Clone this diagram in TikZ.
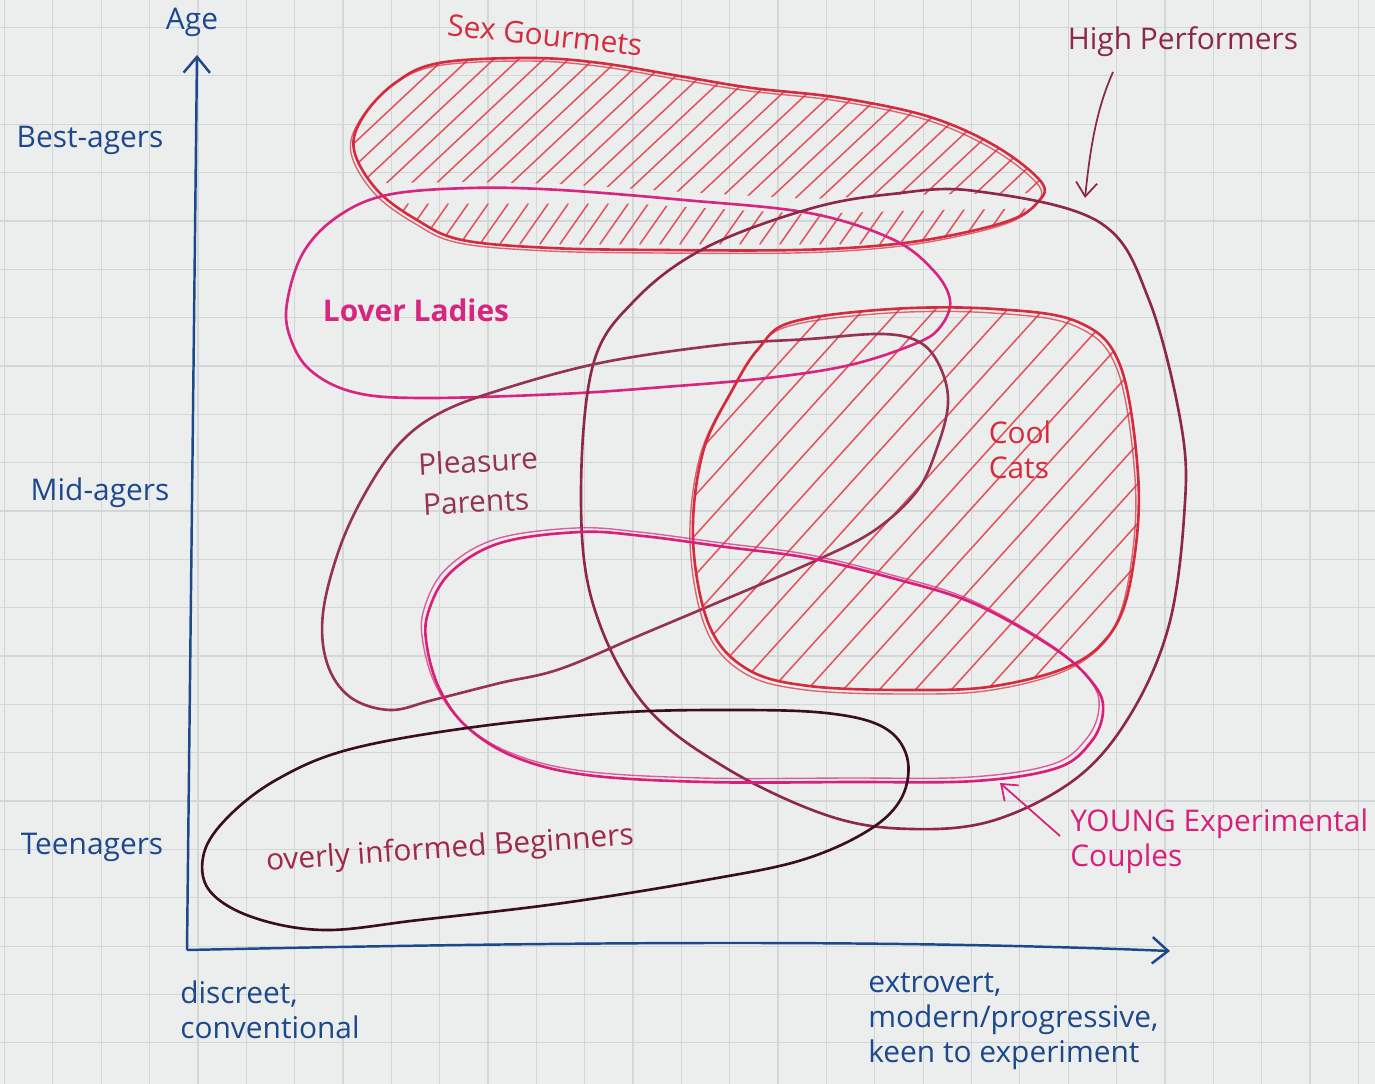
\documentclass[tikz,border=0pt]{standalone}
\usepackage{fontspec}
\setmainfont{Open Sans}
\usetikzlibrary{arrows.meta}

\definecolor{paper}{RGB}{236,238,237}
\definecolor{gridgray}{RGB}{212,215,215}
\definecolor{axisblue}{RGB}{28,72,140}
\definecolor{gourmetred}{RGB}{212,44,62}
\definecolor{hatchred}{RGB}{226,86,96}
\definecolor{ladypink}{RGB}{214,38,128}
\definecolor{performer}{RGB}{142,40,74}
\definecolor{parentrose}{RGB}{150,50,82}
\definecolor{youngpink}{RGB}{216,32,122}
\definecolor{beginner}{RGB}{58,14,28}
\definecolor{beginnertext}{RGB}{160,40,72}

\newcommand\gourmetblob{plot[smooth cycle,tension=0.6] coordinates {(439,63) (529,58) (600,63) (685,77) (752,88) (841,98) (930,117) (997,147) (1042,183) (1037,203) (1011,220) (953,235) (886,245) (796,250) (662,250) (551,248) (462,240) (417,220) (377,190) (354,150) (363,117) (395,83)}}
\newcommand\ladyblob{plot[smooth cycle,tension=0.6] coordinates {(287,303) (303,253) (337,217) (387,195) (470,188) (560,190) (684,200) (809,213) (892,239) (933,270) (950,300) (941,326) (917,343) (850,365) (767,378) (664,387) (560,394) (420,398) (353,392) (310,370) (290,337)}}
\newcommand\performerblob{plot[smooth cycle,tension=0.6] coordinates {(975,191) (1099,222) (1149,300) (1182,430) (1184,517) (1169,625) (1132,712) (1078,777) (995,820) (912,829) (829,816) (726,768) (643,703) (593,604) (581,495) (593,365) (635,300) (705,248) (809,209) (892,194)}}
\newcommand\parentblob{plot[smooth cycle,tension=0.6] coordinates {(390,710) (350,697) (327,663) (323,613) (340,547) (367,490) (400,443) (440,413) (500,390) (600,363) (720,345) (809,339) (883,334) (921,343) (941,369) (948,404) (937,448) (917,491) (875,530) (817,560) (726,599) (643,634) (560,669) (500,683) (433,700)}}
\newcommand\catblob{plot[smooth cycle,tension=0.6] coordinates {(792,322) (892,309) (995,309) (1078,322) (1120,365) (1138,474) (1134,560) (1116,625) (1074,664) (995,686) (912,690) (809,686) (747,669) (709,625) (693,539) (703,452) (734,387) (759,348)}}
\newcommand\youngblob{plot[smooth cycle,tension=0.6] coordinates {(580,532) (643,536) (726,547) (809,558) (892,578) (975,604) (1058,651) (1095,686) (1103,712) (1091,742) (1057,768) (975,781) (850,782) (706,782) (587,775) (515,757) (467,727) (440,690) (427,647) (428,613) (450,573) (500,543)}}
\newcommand\beginnerblob{plot[smooth cycle,tension=0.6] coordinates {(204,853) (228,817) (276,780) (347,750) (467,728) (611,713) (730,710) (826,713) (883,727) (907,757) (902,797) (869,830) (802,860) (706,880) (563,903) (419,920) (324,930) (252,917) (209,890)}}

\begin{document}
\begin{tikzpicture}[x=0.02cm,y=-0.02cm,
  gridline/.style={gridgray,line width=0.7pt},
  blob/.style={line width=1.5pt,line join=round},
  echo/.style={line width=0.8pt,opacity=0.7},
  hatch/.style={hatchred,line width=0.9pt,line cap=round},
  axis/.style={axisblue,line width=1.4pt,-{Straight Barb[length=9pt,width=15pt]}},
  pointer/.style={line width=1pt,-{Straight Barb[length=8pt,width=12pt]}},
  hand/.style={font=\fontsize{17}{20}\selectfont,inner sep=0pt,align=left}]
\useasboundingbox (0,0) rectangle (1375,1084);
\fill[paper] (0,0) rectangle (1375,1084);
\foreach \k in {0,...,28}
  \draw[gridline] ({4.5+48.35*\k},0) -- ++(0,1084);
\foreach \k in {0,...,21}
  \draw[gridline] (0,{27.5+48.35*\k}) -- ++(1375,0);

\coordinate (origin) at (187,950);
\coordinate (ytip) at (197,55);
\coordinate (xtip) at (1170,951);
\draw[axis] (origin) -- (ytip);
\draw[axis] (origin) .. controls (600,941) and (900,940) .. (xtip);

\node[hand,axisblue] (agelabel) at (192,22) {Age};
\node[hand,axisblue] (bestagers) at (90,140) {Best-agers};
\node[hand,axisblue] (midagers) at (100,493) {Mid-agers};
\node[hand,axisblue] (teenagers) at (92,847) {Teenagers};
\node[hand,axisblue,anchor=north west] (discreet) at (180,980) {discreet,\\conventional};
\node[hand,axisblue,anchor=north west] (extrovert) at (868,972) {extrovert,\\modern/progressive,\\keen to experiment};

\begin{scope}
  \clip \gourmetblob;
  \clip (0,0) -- (0,188) -- (470,182) -- (560,184) -- (684,192) -- (809,199) -- (900,195) -- (1100,192) -- (1100,0) -- cycle;
  \foreach \c in {260,285,...,1060}
    \draw[hatch] (\c,208) -- ++(160,-150);
\end{scope}
\begin{scope}
  \clip \gourmetblob;
  \clip (0,1084) -- (0,201) -- (470,195) -- (560,198) -- (684,207) -- (809,214) -- (900,211) -- (1100,207) -- (1100,1084) -- cycle;
  \foreach \c in {360,380,...,1060}
    \draw[hatch] (\c,244) -- ++(28,-40);
\end{scope}
\begin{scope}
  \clip \catblob;
  \foreach \c in {420,456,...,1160}
    \draw[hatch] (\c,720) -- ++(380,-420);
\end{scope}

\draw[blob,gourmetred] \gourmetblob;
\draw[echo,gourmetred,shift={(-3,3)}] \gourmetblob;
\draw[blob,ladypink] \ladyblob;
\draw[blob,performer] \performerblob;
\draw[blob,parentrose] \parentblob;
\draw[blob,gourmetred] \catblob;
\draw[echo,gourmetred,shift={(-3,4)}] \catblob;
\draw[blob,youngpink] \youngblob;
\draw[echo,youngpink,shift={(-4,-4)}] \youngblob;
\draw[blob,beginner] \beginnerblob;

\node[hand,gourmetred,rotate=-6] (gourmets) at (545,35) {Sex Gourmets};
\node[hand,performer] (performers) at (1183,42) {High Performers};
\node[hand,ladypink] (ladies) at (416,310) {\textbf{Lover Ladies}};
\node[hand,parentrose,rotate=3] (pleasure) at (478,461) {Pleasure};
\node[hand,parentrose,rotate=3] (parents) at (476,502) {Parents};
\node[hand,gourmetred] (cats) at (1020,450) {Cool\\Cats};
\node[hand,youngpink,anchor=north west] (young) at (1070,808) {YOUNG Experimental\\Couples};
\node[hand,beginnertext,rotate=4] (beginners) at (450,850) {overly informed Beginners};

\coordinate (hpstart) at (1113,72);
\coordinate (hpend) at (1085,198);
\draw[pointer,performer] (hpstart) .. controls (1096,110) and (1090,150) .. (hpend);
\coordinate (ycstart) at (1060,836);
\coordinate (ycend) at (1000,783);
\draw[pointer,youngpink] (ycstart) -- (ycend);
\end{tikzpicture}
\end{document}
